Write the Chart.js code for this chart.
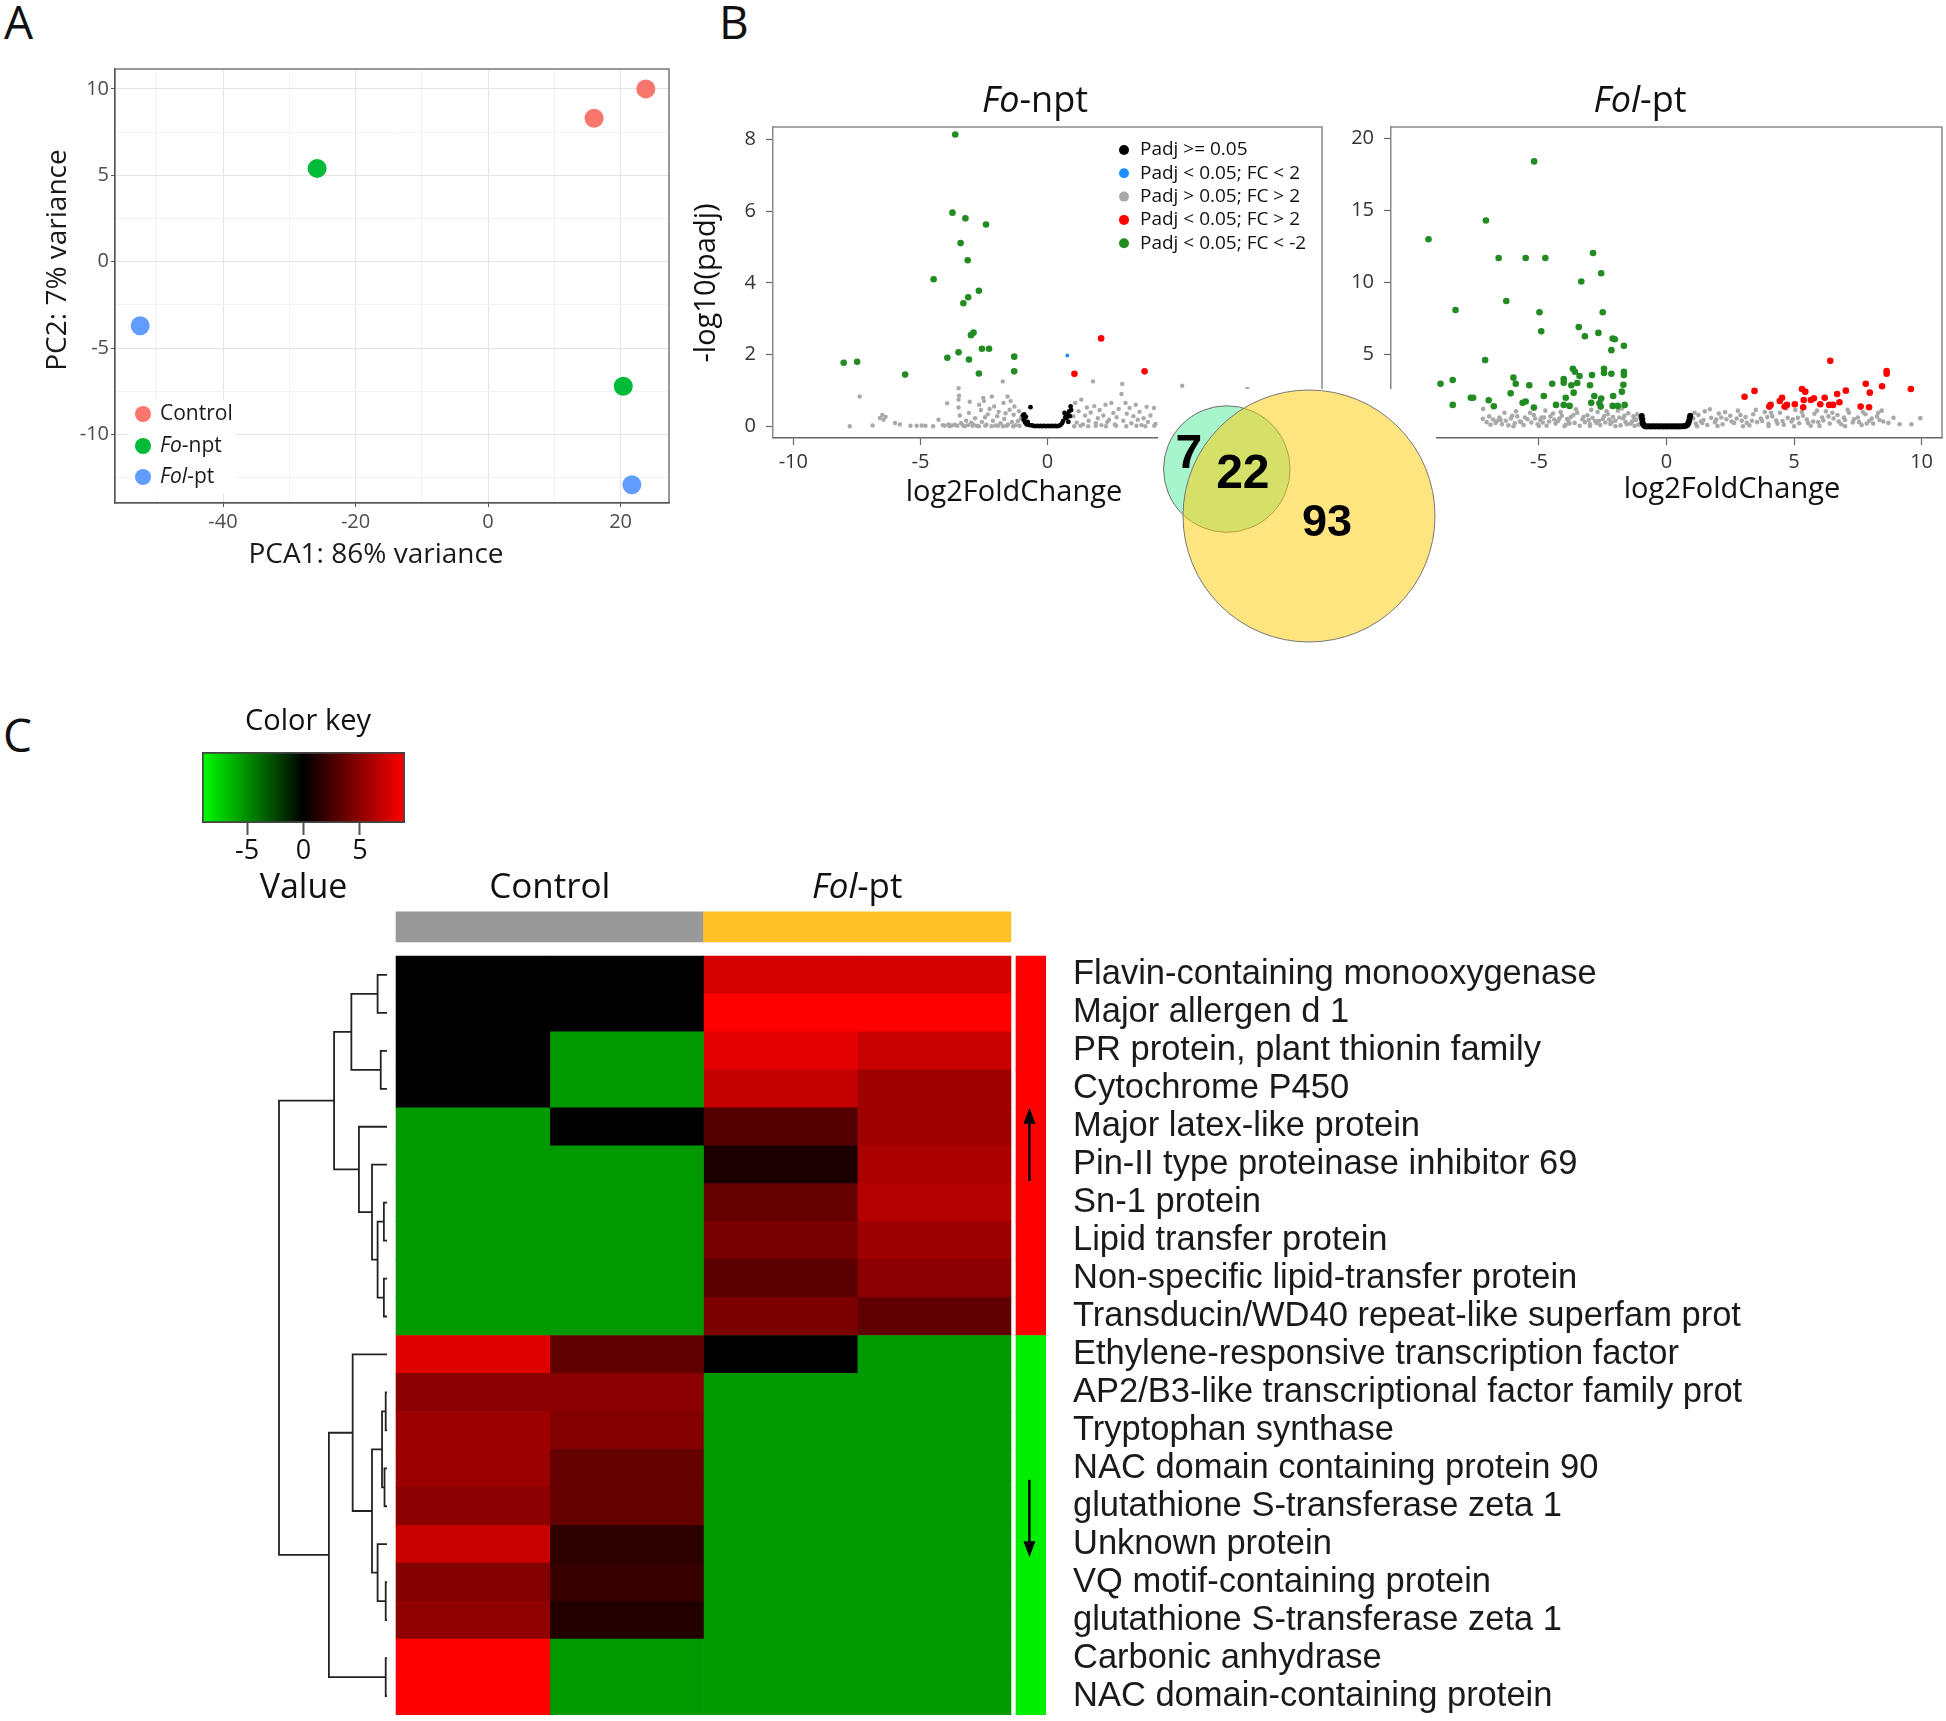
<!DOCTYPE html>
<html>
<head>
<meta charset="utf-8">
<script src="https://cdn.jsdelivr.net/npm/chart.js@4.4.1/dist/chart.umd.min.js"></script>
<style>
  body { margin: 0; width: 1946px; height: 1721px; background: #fff; position: relative; overflow: hidden; }
  canvas { position: absolute; }
  .tag { position: absolute; font: 46px/46px 'Open Sans', sans-serif; color: #111; }
</style>
</head>
<body>
<div class="tag" style="left:4px;top:-2px">A</div>
<div class="tag" style="left:719px;top:-2px">B</div>
<div class="tag" style="left:3px;top:711px">C</div>
<canvas id="pca" width="700" height="590" style="left:0;top:0"></canvas>
<canvas id="volFo" width="640" height="520" style="left:690px;top:0"></canvas>
<canvas id="volFol" width="616" height="520" style="left:1330px;top:0"></canvas>
<canvas id="venn" width="278" height="262" style="left:1158px;top:389px;z-index:2"></canvas>
<canvas id="key" width="280" height="215" style="left:170px;top:700px"></canvas>
<canvas id="heat" width="1706" height="861" style="left:240px;top:860px"></canvas>
<script>
// ---------- A: PCA ----------
const pcaCtrlX = [23.8, 16.0];
const pcaCtrlY = [10.0, 8.3];
const pcaFoX = [-25.8, 20.4];
const pcaFoY = [5.4, -7.2];
const pcaFolX = [-52.5, 21.7];
const pcaFolY = [-3.7, -12.9];
const pcaXTicks = [-50, -40, -30, -20, -10, 0, 10, 20];
const pcaYTicks = [-12.5, -10, -7.5, -5, -2.5, 0, 2.5, 5, 7.5, 10];

// ---------- B: volcano plots (log2FC, -log10 padj) ----------
const volXTicks = [-10, -5, 0, 5, 10];
const foYTicks = [0, 2, 4, 6, 8];
const folYTicks = [0, 5, 10, 15, 20];

const foDown = [[-3.63,8.14],[-3.74,5.96],[-3.23,5.80],[-2.42,5.63],[-3.42,5.11],[-3.14,4.63],[-4.48,4.10],
  [-2.70,3.78],[-3.12,3.60],[-3.31,3.43],[-2.91,2.61],[-3.01,2.54],[-2.58,2.16],[-2.30,2.16],[-3.50,2.06],
  [-3.94,1.91],[-3.09,1.86],[-1.31,1.94],[-1.31,1.53],[-2.70,1.47],[-8.02,1.77],[-7.49,1.80],[-5.60,1.44]];
const foUp = [[2.11,2.45],[1.06,1.46],[3.82,1.53]];
const foSmallFc = [[0.78,1.97]];
const foBlack = [[-0.97,0.30],[-0.94,0.18],[-0.92,0.33],[-0.90,0.22],[-0.88,0.10],[-0.85,0.26],[-0.82,0.05],
  [-0.78,0.12],[-0.72,0.03],[-0.67,0.53],[-0.62,0.02],[-0.55,0.01],[-0.48,0.00],[-0.41,0.01],[-0.34,0.00],
  [-0.27,0.01],[-0.20,0.00],[-0.13,0.01],[-0.06,0.00],[0.02,0.01],[0.09,0.00],[0.16,0.01],[0.23,0.00],
  [0.30,0.01],[0.37,0.00],[0.44,0.01],[0.51,0.03],[0.57,0.08],[0.62,0.15],[0.67,0.37],[0.70,0.25],
  [0.75,0.23],[0.78,0.31],[0.82,0.12],[0.85,0.41],[0.88,0.28],[0.91,0.55],[0.93,0.45]];
const foGrey = [[-7.78,0.00],[-7.39,0.83],[-6.88,0.02],[-6.59,0.23],[-6.50,0.31],[-6.37,0.26],[-6.45,0.18],
  [-6.00,0.09],[-5.81,0.05],[-5.39,0.01],[-5.15,0.01],[-4.95,0.02],[-4.80,0.01],[-4.50,0.00],[-4.29,0.18],
  [-4.12,0.03],[-4.05,0.01],[-3.95,0.64],[-3.90,0.05],[-3.78,0.02],[-3.65,0.04],[-3.50,0.74],[-3.50,0.52],
  [-3.50,1.06],[-3.48,0.85],[-3.45,0.30],[-3.40,0.08],[-3.32,0.02],[-3.20,0.15],[-3.12,0.03],[-3.06,0.68],
  [-3.09,0.37],[-3.00,0.10],[-2.92,0.05],[-2.85,0.22],[-2.78,0.01],[-2.69,0.60],[-2.62,0.45],[-2.58,0.12],
  [-2.53,0.79],[-2.50,0.70],[-2.46,0.25],[-2.40,0.04],[-2.35,0.33],[-2.28,0.48],[-2.19,0.83],[-2.15,0.15],
  [-2.10,0.55],[-2.05,0.02],[-1.98,0.28],[-1.92,0.40],[-1.85,0.08],[-1.76,1.25],[-1.73,0.65],[-1.70,0.20],
  [-1.65,0.36],[-1.57,0.83],[-1.55,0.05],[-1.49,0.46],[-1.45,0.70],[-1.40,0.12],[-1.33,0.32],[-1.30,0.55],
  [-1.25,0.03],[-1.17,0.14],[-1.12,0.42],[-1.05,0.22],[-3.85,0.00],[-3.55,0.01],[-3.25,0.00],[-2.95,0.01],
  [-2.70,0.00],[-2.45,0.01],[-2.20,0.00],[-1.95,0.01],[-1.75,0.00],[-1.60,0.01],[-1.35,0.00],[-1.10,0.01],
  [1.02,0.28],[1.09,0.65],[1.15,0.10],[1.22,0.42],[1.33,0.74],[1.40,0.05],[1.48,0.30],[1.55,0.52],[1.62,0.15],
  [1.70,0.38],[1.79,1.25],[1.84,0.56],[1.90,0.08],[1.98,0.22],[2.05,0.45],[2.12,0.03],[2.20,0.30],[2.28,0.60],
  [2.35,0.12],[2.42,0.18],[2.51,0.65],[2.59,0.37],[2.65,0.05],[2.72,0.25],[2.80,0.48],[2.91,0.90],[2.94,1.18],
  [2.98,0.15],[3.07,0.65],[3.12,0.35],[3.23,0.51],[3.30,0.08],[3.38,0.28],[3.47,0.60],[3.55,0.18],[3.62,0.40],
  [3.70,0.03],[3.78,0.22],[3.90,0.54],[3.95,0.12],[4.05,0.30],[4.19,0.51],[4.25,0.06],[5.30,1.13],[7.86,1.04],
  [1.05,0.00],[1.30,0.01],[1.60,0.00],[1.90,0.01],[2.30,0.00],[2.70,0.01],[3.10,0.00],[3.50,0.01],[3.85,0.00],[4.20,0.01]];

const folDown = [[-5.19,18.41],[-7.08,14.31],[-9.33,13.00],[-2.88,12.05],[-6.58,11.70],[-5.52,11.70],[-4.75,11.70],
  [-2.56,10.64],[-3.34,10.07],[-6.28,8.71],[-8.27,8.09],[-4.98,7.93],[-2.50,7.93],[-4.91,6.61],[-3.44,6.91],
  [-3.20,6.27],[-2.67,6.50],[-2.11,6.11],[-2.03,6.06],[-2.16,5.30],[-1.67,5.60],[-7.11,4.61],[-3.67,4.01],
  [-3.59,3.80],[-2.45,4.01],[-2.45,3.71],[-2.16,3.66],[-1.67,3.80],[-1.67,3.57],[-3.41,3.50],[-2.92,3.57],
  [-6.00,3.39],[-8.86,2.97],[-8.38,3.23],[-5.91,2.97],[-5.38,2.86],[-4.48,2.97],[-4.03,3.29],[-4.03,3.04],
  [-3.73,2.86],[-3.50,3.02],[-3.00,2.86],[-1.69,2.90],[-3.64,2.35],[-1.75,2.42],[-6.11,2.30],[-4.81,2.12],
  [-7.67,2.00],[-7.58,2.00],[-3.95,2.00],[-2.83,2.12],[-2.09,2.12],[-2.56,1.94],[-6.97,1.82],[-5.52,1.73],
  [-5.64,1.64],[-2.95,1.64],[-2.63,1.61],[-8.38,1.50],[-6.77,1.41],[-4.33,1.50],[-4.03,1.50],[-3.80,1.43],
  [-2.58,1.38],[-2.11,1.43],[-1.91,1.43],[-1.64,1.50],[-5.20,1.31]];
const folUp = [[6.42,4.56],[8.63,3.85],[8.63,3.66],[9.58,2.60],[7.81,2.97],[8.45,2.79],[7.97,2.35],[7.03,2.49],
  [6.69,2.26],[3.45,2.47],[3.06,2.07],[5.31,2.60],[5.44,2.42],[5.78,1.96],[5.66,1.84],[5.38,1.84],[6.20,2.00],
  [6.78,1.68],[6.03,1.54],[6.38,1.50],[6.53,1.50],[5.36,1.34],[5.03,1.54],[4.72,1.50],[4.63,1.38],[4.53,2.00],
  [4.44,1.77],[4.08,1.50],[4.03,1.38],[7.61,1.38],[7.94,1.34]];
const folBlack = [[-0.97,0.72],[-0.95,0.48],[-0.94,0.30],[-0.92,0.15],[-0.88,0.06],[-0.83,0.02],[-0.76,0.00],
  [-0.68,0.01],[-0.60,0.00],[-0.52,0.01],[-0.44,0.00],[-0.36,0.01],[-0.28,0.00],[-0.20,0.01],[-0.12,0.00],
  [-0.04,0.01],[0.04,0.00],[0.12,0.01],[0.20,0.00],[0.28,0.01],[0.36,0.00],[0.44,0.01],[0.52,0.00],[0.60,0.01],
  [0.68,0.02],[0.76,0.05],[0.82,0.12],[0.86,0.25],[0.89,0.42],[0.91,0.60],[0.93,0.75]];
const folGrey = [[-7.20,0.53],[-7.19,1.22],[-7.05,0.30],[-6.90,0.12],[-6.80,0.48],[-6.70,0.25],[-6.55,0.62],
  [-6.45,0.15],[-6.30,0.40],[-6.20,0.08],[-6.10,0.55],[-5.95,0.22],[-5.85,0.70],[-5.75,0.35],[-5.60,0.10],
  [-5.45,0.50],[-5.30,0.28],[-5.20,0.80],[-5.05,0.15],[-4.95,0.45],[-4.80,0.62],[-4.70,0.05],[-4.60,0.35],
  [-4.45,0.90],[-4.35,0.20],[-4.20,0.55],[-4.10,0.75],[-3.95,0.12],[-3.85,0.40],[-3.75,0.65],[-3.60,0.25],
  [-3.50,0.95],[-3.40,0.05],[-3.30,0.50],[-3.20,0.30],[-3.10,0.78],[-3.00,0.15],[-2.90,0.60],[-2.80,0.38],
  [-2.70,1.00],[-2.60,0.10],[-2.50,0.52],[-2.40,0.28],[-2.30,0.85],[-2.20,0.18],[-2.10,0.65],[-2.00,0.40],
  [-1.90,1.10],[-1.80,0.08],[-1.70,0.55],[-1.60,0.30],[-1.50,0.92],[-1.40,0.20],[-1.30,0.70],[-1.20,0.45],
  [-1.10,0.12],[-1.05,0.60],[-6.00,0.02],[-5.00,0.03],[-4.00,0.02],[-3.00,0.03],[-2.00,0.02],[-1.25,0.03],
  [-6.65,0.38],[-6.05,0.75],[-5.55,0.62],[-4.85,0.28],[-4.25,0.38],[-3.65,0.80],[-3.05,0.45],[-2.45,0.70],
  [-1.85,0.62],[-1.35,0.35],[-5.15,0.55],[-4.55,0.70],[-3.90,0.52],[-2.65,0.40],[-2.15,0.30],[-1.55,0.15],
  [-6.95,0.70],[-6.35,0.95],[-5.90,1.05],[-5.35,0.95],[-4.75,1.10],[-4.15,1.00],[-3.55,1.20],[-2.95,1.15],
  [-2.35,1.05],[-1.75,1.25],[-1.15,0.85],[-6.50,0.45],[-5.70,0.30],[-4.90,0.62],[-4.40,0.48],[-3.80,0.20],
  [-3.25,0.68],[-2.75,0.25],[-2.25,0.48],[-1.65,0.75],[-1.25,0.55],
  [1.05,0.55],[1.15,0.20],[1.25,0.80],[1.35,0.35],[1.50,1.05],[1.60,0.10],[1.75,0.60],[1.90,0.30],[2.05,0.90],
  [2.20,0.15],[2.35,0.50],[2.50,0.75],[2.65,0.25],[2.80,1.10],[2.95,0.40],[3.10,0.65],[3.25,0.08],[3.40,0.85],
  [3.55,0.30],[3.70,0.55],[3.85,1.00],[4.00,0.18],[4.15,0.70],[4.30,0.42],[4.45,0.95],[4.60,0.12],[4.75,0.60],
  [4.90,0.35],[5.05,1.15],[5.20,0.22],[5.35,0.75],[5.50,0.48],[5.65,0.05],[5.80,0.88],[5.95,0.30],[6.10,0.62],
  [6.25,1.05],[6.40,0.20],[6.55,0.55],[6.70,0.80],[6.85,0.15],[7.00,0.45],[7.15,0.95],[7.30,0.28],[7.50,0.62],
  [7.65,0.10],[7.80,0.85],[7.95,0.40],[8.10,0.20],[8.25,0.70],[8.44,1.10],[8.50,0.35],[9.14,0.16],[9.60,0.16],
  [9.95,0.58],[1.20,0.02],[2.00,0.03],[3.00,0.02],[4.00,0.03],[5.00,0.02],[6.00,0.03],[7.00,0.02],
  [1.45,0.45],[2.15,0.62],[2.75,0.55],[3.35,0.40],[3.95,0.65],[4.55,0.38],[5.15,0.60],[5.75,0.35],[6.35,0.70],
  [6.95,0.62],[7.55,0.30],[8.05,0.55],
  [1.10,0.95],[1.70,1.20],[2.30,1.00],[2.90,0.80],[3.50,1.15],[4.10,0.95],[4.70,1.25],[5.30,1.00],[5.90,1.10],
  [6.50,0.95],[7.10,1.15],[7.70,1.00],[8.30,0.95],[1.40,0.25],[1.95,0.48],[2.55,0.35],[3.15,0.25],[3.75,0.38],
  [4.35,0.20],[4.95,0.50],[5.55,0.25],[6.15,0.42],[6.75,0.35],[7.35,0.50],[7.85,0.20],[8.35,0.45],[8.70,0.25],
  [8.90,0.60]];

const volLegend = ['Padj >= 0.05', 'Padj < 0.05; FC < 2', 'Padj > 0.05; FC > 2', 'Padj < 0.05; FC > 2', 'Padj < 0.05; FC < -2'];
const volColors = ['#000000', '#1E90FF', '#A9A9A9', '#FF0000', '#228B22'];

// Venn: Fo-npt only, shared, Fol-pt only
const vennCounts = [7, 22, 93];

// ---------- C: heatmap ----------
const geneNames = ['Flavin-containing monooxygenase', 'Major allergen d 1', 'PR protein, plant thionin family',
  'Cytochrome P450', 'Major latex-like protein', 'Pin-II type proteinase inhibitor 69', 'Sn-1 protein',
  'Lipid transfer protein', 'Non-specific lipid-transfer protein', 'Transducin/WD40 repeat-like superfam prot',
  'Ethylene-responsive transcription factor', 'AP2/B3-like transcriptional factor family prot', 'Tryptophan synthase',
  'NAC domain containing protein 90', 'glutathione S-transferase zeta 1', 'Unknown protein',
  'VQ motif-containing protein', 'glutathione S-transferase zeta 1', 'Carbonic anhydrase', 'NAC domain-containing protein'];
const ctrl1 = [0, 0, 0, 0, -5.4, -5.4, -5.4, -5.4, -5.4, -5.4, 7.9, 4.9, 5.5, 5.5, 4.9, 7.1, 4.6, 5.1, 9, 9];
const ctrl2 = [0, 0, -5.4, -5.4, 0, -5.4, -5.4, -5.4, -5.4, -5.4, 3.4, 4.9, 4.6, 3.5, 3.5, 1.6, 1.9, 1.2, -5.4, -5.4];
const fol1 = [7.5, 9, 8.1, 6.9, 3.0, 0.9, 3.5, 4.2, 3.2, 4.4, 0, -5.4, -5.4, -5.4, -5.4, -5.4, -5.4, -5.4, -5.4, -5.4];
const fol2 = [7.5, 9, 7.1, 5.6, 5.6, 6.0, 6.4, 5.5, 4.9, 3.4, -5.4, -5.4, -5.4, -5.4, -5.4, -5.4, -5.4, -5.4, -5.4, -5.4];
const geneTrend = ['up','up','up','up','up','up','up','up','up','up',
  'down','down','down','down','down','down','down','down','down','down'];
const groupNames = ['Control', 'Fol-pt'];
const keyTicks = [-5, 0, 5];
const keyRange = [-9, 9];
// row dendrogram (hclust style: negative = leaf row, positive = earlier merge)
const mergeL = [-1, -3, 1, -7, -9, 4, -6, -5, 3, -12, -14, 10, -17, -16, 12, -11, -19, 16, 9];
const mergeR = [-2, -4, 2, -8, -10, 5, 6, 7, 8, -13, -15, 11, -18, 13, 14, 15, -20, 17, 18];
const mergeH = [0.87, 0.58, 3.3, 0.29, 0.29, 0.87, 1.39, 2.6, 4.9, 0.12, 0.23, 0.46, 0.12, 0.87, 1.39, 3.18, 0.12, 5.38, 10];

Chart.defaults.font.family = "'Open Sans', sans-serif";

const pts = a => a.map(([x, y]) => ({ x, y }));
const zip = (xs, ys) => xs.map((x, i) => ({ x, y: ys[i] }));
const isMajor = (c, m) => c.tick && Math.abs(c.tick.value % m) < 1e-9;

function drawParts(ctx, parts, x, y, size, align, family) {
  family = family || "'Open Sans', sans-serif";
  let w = 0;
  parts.forEach(([t, it]) => { ctx.font = (it ? 'italic ' : '') + size + 'px ' + family; w += ctx.measureText(t).width; });
  let cx = align === 'center' ? x - w / 2 : x;
  ctx.textAlign = 'left';
  parts.forEach(([t, it]) => {
    ctx.font = (it ? 'italic ' : '') + size + 'px ' + family;
    ctx.fillText(t, cx, y);
    cx += ctx.measureText(t).width;
  });
}

// ---------- panel A ----------
const pcaDeco = {
  id: 'pcaDeco',
  afterDraw(chart) {
    const { ctx, chartArea: ca } = chart;
    ctx.save();
    ctx.strokeStyle = '#555'; ctx.lineWidth = 1.2;
    ctx.strokeRect(ca.left, ca.top, ca.right - ca.left, ca.bottom - ca.top);
    ctx.fillStyle = '#fff';
    ctx.fillRect(ca.left + 13, ca.bottom - 103, 108, 93);
    const items = [[['Control', false]], [['Fo', true], ['-npt', false]], [['Fol', true], ['-pt', false]]];
    const offs = [89, 57, 26];
    ctx.textBaseline = 'middle';
    items.forEach((parts, i) => {
      ctx.fillStyle = chart.data.datasets[i].backgroundColor;
      ctx.beginPath(); ctx.arc(ca.left + 28, ca.bottom - offs[i], 8, 0, Math.PI * 2); ctx.fill();
      ctx.fillStyle = '#1a1a1a';
      drawParts(ctx, parts, ca.left + 45, ca.bottom - offs[i], 21, 'left');
    });
    ctx.fillStyle = '#1a1a1a';
    drawParts(ctx, [['PCA1: 86% variance', false]], 376, 555, 28, 'center');
    ctx.translate(58, 260); ctx.rotate(-Math.PI / 2);
    drawParts(ctx, [['PC2: 7% variance', false]], 0, 0, 28, 'center');
    ctx.restore();
  }
};

new Chart(document.getElementById('pca'), {
  type: 'scatter',
  data: {
    datasets: [
      { label: 'Control', data: zip(pcaCtrlX, pcaCtrlY), backgroundColor: '#F8766D' },
      { label: 'Fo-npt', data: zip(pcaFoX, pcaFoY), backgroundColor: '#00BA38' },
      { label: 'Fol-pt', data: zip(pcaFolX, pcaFolY), backgroundColor: '#619CFF' }
    ].map(d => Object.assign(d, { pointRadius: 9.5, pointHoverRadius: 9.5, borderWidth: 0 }))
  },
  options: {
    responsive: false, animation: false,
    layout: { padding: { left: 0, top: 69, right: 31, bottom: 0 } },
    plugins: { legend: { display: false }, tooltip: { enabled: false } },
    scales: {
      x: {
        type: 'linear', min: -56.3, max: 27.3,
        afterBuildTicks: s => { s.ticks = pcaXTicks.map(v => ({ value: v })); },
        afterFit: s => { s.height = 87; },
        grid: { color: c => isMajor(c, 20) ? '#E4E4E4' : '#F2F2F2', tickColor: c => isMajor(c, 20) ? '#555' : 'rgba(0,0,0,0)', tickLength: 4 },
        border: { color: '#555', width: 1.2 },
        ticks: { padding: 3, color: '#4D4D4D', font: { size: 20 }, callback: v => (v % 20 === 0 ? v : '') }
      },
      y: {
        type: 'linear', min: -13.96, max: 11.15,
        afterBuildTicks: s => { s.ticks = pcaYTicks.map(v => ({ value: v })); },
        afterFit: s => { s.width = 115; },
        grid: { color: c => isMajor(c, 5) ? '#E4E4E4' : '#F2F2F2', tickColor: c => isMajor(c, 5) ? '#555' : 'rgba(0,0,0,0)', tickLength: 4 },
        border: { color: '#555', width: 1.2 },
        ticks: { padding: 2, color: '#4D4D4D', font: { size: 20 }, callback: v => (v % 5 === 0 ? v : '') }
      }
    }
  },
  plugins: [pcaDeco]
});

// ---------- panel B: volcanoes ----------
function volDeco(o) {
  return {
    id: 'volDeco',
    afterDraw(chart) {
      const { ctx, chartArea: ca } = chart;
      ctx.save();
      ctx.strokeStyle = '#8a8a8a'; ctx.lineWidth = 1.5;
      ctx.beginPath();
      ctx.moveTo(ca.left, ca.top); ctx.lineTo(ca.right, ca.top); ctx.lineTo(ca.right, ca.bottom);
      ctx.stroke();
      ctx.fillStyle = '#111';
      ctx.textBaseline = 'alphabetic';
      drawParts(ctx, o.title, o.titleX, 112, 36, 'center');
      ctx.textBaseline = 'middle';
      drawParts(ctx, [['log2FoldChange', false]], o.xTitleX, o.xTitleY, 29, 'center');
      if (o.yTitle) {
        ctx.save(); ctx.translate(17, 283); ctx.rotate(-Math.PI / 2);
        drawParts(ctx, [[o.yTitle, false]], 0, 0, 29, 'center');
        ctx.restore();
      }
      if (o.legend) {
        ctx.fillStyle = '#fff';
        ctx.fillRect(420, 138, 208, 120);
        volLegend.forEach((t, i) => {
          const y = 150 + i * 23.3;
          ctx.fillStyle = volColors[i];
          ctx.beginPath(); ctx.arc(434, y, 5, 0, Math.PI * 2); ctx.fill();
          ctx.fillStyle = '#111';
          drawParts(ctx, [[t, false]], 450, y, 19, 'left');
        });
      }
      ctx.restore();
    }
  };
}

function volcano(id, sets, o) {
  return new Chart(document.getElementById(id), {
    type: 'scatter',
    data: {
      datasets: sets.map(s => ({ data: pts(s.data), backgroundColor: s.color, pointRadius: s.r, pointHoverRadius: s.r, borderWidth: 0 }))
    },
    options: {
      responsive: false, animation: false,
      layout: { padding: { left: 0, top: 127, right: o.padRight, bottom: 0 } },
      plugins: { legend: { display: false }, tooltip: { enabled: false } },
      scales: {
        x: {
          type: 'linear', min: -10.8, max: 10.8,
          afterBuildTicks: s => { s.ticks = volXTicks.map(v => ({ value: v })); },
          afterFit: s => { s.height = 82; },
          grid: { drawOnChartArea: false, tickLength: 7, tickColor: '#666', tickWidth: 1.2 },
          border: { color: '#666', width: 1.4 },
          ticks: { padding: 5, color: '#333', font: { size: 20 } }
        },
        y: {
          type: 'linear', min: o.yMin, max: o.yMax,
          afterBuildTicks: s => { s.ticks = o.yTicks.map(v => ({ value: v })); },
          afterFit: s => { s.width = o.yWidth; },
          grid: { drawOnChartArea: false, tickLength: 7, tickColor: '#666', tickWidth: 1.2 },
          border: { color: '#8a8a8a', width: 1.5 },
          ticks: { padding: 10, color: '#333', font: { size: 20 } }
        }
      }
    },
    plugins: [volDeco(o)]
  });
}

volcano('volFo', [
  { data: foDown, color: '#228B22', r: 3.3 },
  { data: foUp, color: '#FF0000', r: 3.3 },
  { data: foSmallFc, color: '#1E90FF', r: 2 },
  { data: foBlack, color: '#000000', r: 2.4 },
  { data: foGrey, color: '#A9A9A9', r: 2.2 }
], { padRight: 8, yWidth: 83, yMin: -0.33, yMax: 8.35, yTicks: foYTicks,
  title: [['Fo', true], ['-npt', false]], titleX: 345, xTitleX: 324, xTitleY: 493, yTitle: '-log10(padj)', legend: true });

volcano('volFol', [
  { data: folDown, color: '#228B22', r: 3.3 },
  { data: folUp, color: '#FF0000', r: 3.3 },
  { data: folBlack, color: '#000000', r: 3 },
  { data: folGrey, color: '#A9A9A9', r: 2.3 }
], { padRight: 4, yWidth: 61, yMin: -0.8, yMax: 20.8, yTicks: folYTicks,
  title: [['Fol', true], ['-pt', false]], titleX: 310, xTitleX: 402, xTitleY: 490, legend: false });

// ---------- Venn (area-proportional) ----------
function lensArea(d, r, R) {
  if (d >= r + R) return 0;
  if (d <= Math.abs(R - r)) return Math.PI * Math.min(r, R) ** 2;
  const a = r * r * Math.acos((d * d + r * r - R * R) / (2 * d * r));
  const b = R * R * Math.acos((d * d + R * R - r * r) / (2 * d * R));
  const c = 0.5 * Math.sqrt((-d + r + R) * (d + r - R) * (d - r + R) * (d + r + R));
  return a + b - c;
}
const nFo = vennCounts[0] + vennCounts[1];
const nFol = vennCounts[1] + vennCounts[2];
const vk = 11.75;
const rFo = vk * Math.sqrt(nFo), rFol = vk * Math.sqrt(nFol);
let lo = Math.abs(rFol - rFo), hi = rFo + rFol;
for (let i = 0; i < 60; i++) {
  const m = (lo + hi) / 2;
  if (lensArea(m, rFo, rFol) / (Math.PI * rFo * rFo) > vennCounts[1] / nFo) lo = m; else hi = m;
}
const vd = (lo + hi) / 2;
const folC = { x: 151, y: 127 };
const foC = { x: folC.x - 0.868 * vd, y: folC.y - 0.496 * vd };

const vennDeco = {
  id: 'vennDeco',
  beforeDraw(chart) {
    chart.ctx.save(); chart.ctx.fillStyle = '#fff'; chart.ctx.fillRect(0, 0, chart.width, chart.height); chart.ctx.restore();
  },
  afterDatasetsDraw(chart) {
    const { ctx } = chart;
    const a = chart.getDatasetMeta(0).data[0], b = chart.getDatasetMeta(1).data[0];
    ctx.save();
    ctx.fillStyle = '#000'; ctx.textAlign = 'center'; ctx.textBaseline = 'middle';
    ctx.font = "bold 48px 'Liberation Sans', Arial, sans-serif";
    ctx.fillText(String(vennCounts[0]), a.x - 38, a.y - 14);
    ctx.fillText(String(vennCounts[1]), a.x + 16, a.y + 6);
    ctx.font = "bold 45px 'Liberation Sans', Arial, sans-serif";
    ctx.fillText(String(vennCounts[2]), b.x + 18, b.y + 8);
    ctx.restore();
  }
};

new Chart(document.getElementById('venn'), {
  type: 'bubble',
  data: {
    datasets: [
      { data: [{ x: foC.x, y: foC.y, r: rFo }], backgroundColor: '#A6F5CD', borderColor: '#6f6f6f', borderWidth: 1, order: 2, clip: false },
      { data: [{ x: folC.x, y: folC.y, r: rFol }], backgroundColor: 'rgba(255,205,10,0.52)', borderColor: '#777', borderWidth: 1, order: 1, clip: false }
    ]
  },
  options: {
    responsive: false, animation: false,
    layout: { padding: 0, autoPadding: false },
    plugins: { legend: { display: false }, tooltip: { enabled: false } },
    scales: {
      x: { type: 'linear', min: 0, max: 278, display: false },
      y: { type: 'linear', min: 0, max: 262, reverse: true, display: false }
    }
  },
  plugins: [vennDeco]
});

// ---------- panel C: colour key ----------
function keyColor(v) {
  const c = Math.round(255 * Math.min(1, Math.abs(v) / keyRange[1]));
  return v >= 0 ? `rgb(${c},0,0)` : `rgb(0,${c},0)`;
}

new Chart(document.getElementById('key'), {
  type: 'bar',
  data: {
    labels: [''],
    datasets: [{
      data: [keyRange],
      backgroundColor: c => {
        const ca = c.chart.chartArea;
        if (!ca || !isFinite(ca.left) || !isFinite(ca.right)) return '#000';
        const g = c.chart.ctx.createLinearGradient(ca.left, 0, ca.right, 0);
        g.addColorStop(0, keyColor(keyRange[0])); g.addColorStop(0.5, keyColor(0)); g.addColorStop(1, keyColor(keyRange[1]));
        return g;
      },
      borderColor: '#444', borderWidth: 2, borderSkipped: false,
      barPercentage: 1, categoryPercentage: 1
    }]
  },
  options: {
    indexAxis: 'y',
    responsive: false, animation: false,
    layout: { padding: { left: 32, right: 45, top: 52, bottom: 0 } },
    plugins: { legend: { display: false }, tooltip: { enabled: false } },
    scales: {
      x: {
        type: 'linear', min: keyRange[0], max: keyRange[1],
        afterBuildTicks: s => { s.ticks = keyTicks.map(v => ({ value: v })); },
        afterFit: s => { s.height = 92; },
        grid: { drawOnChartArea: false, tickLength: 12, tickColor: '#555', tickWidth: 2 },
        border: { display: false },
        ticks: { padding: 0, color: '#111', font: { size: 27 } },
        title: { display: true, text: 'Value', color: '#111', font: { size: 34 }, padding: { top: 0, bottom: 6 } }
      },
      y: { type: 'category', display: false }
    }
  },
  plugins: [{
    id: 'keyTitle',
    afterDraw(chart) {
      const ctx = chart.ctx;
      ctx.save(); ctx.fillStyle = '#111'; ctx.textBaseline = 'middle';
      drawParts(ctx, [['Color key', false]], 138, 22, 29, 'center');
      ctx.restore();
    }
  }]
});

// ---------- panel C: heatmap ----------
const heatCols = [ctrl1, ctrl2, fol1, fol2];
const cellSets = heatCols.map((vals, c) => ({
  type: 'bar', indexAxis: 'y', grouped: false, barThickness: 38, borderWidth: 0,
  data: vals.map((v, i) => ({ x: [c, c + 1], y: i + 0.5 })),
  backgroundColor: vals.map(keyColor)
}));
const sideSet = {
  type: 'bar', indexAxis: 'y', grouped: false, barThickness: 38, borderWidth: 0,
  data: geneTrend.map((t, i) => ({ x: [4.033, 4.228], y: i + 0.5 })),
  backgroundColor: geneTrend.map(t => (t === 'up' ? '#FF0000' : '#00EE00'))
};
const headerSet = {
  type: 'bar', indexAxis: 'y', grouped: false, barThickness: 30, borderWidth: 0,
  data: groupNames.map((g, i) => ({ x: [i * 2, i * 2 + 2], y: -0.765 })),
  backgroundColor: ['#999999', '#FFC125']
};

// dendrogram segments from the merge table
const nodeY = [];
const dendroSets = [];
const nodePos = ref => (ref < 0 ? [0, -ref - 0.5] : [mergeH[ref - 1], nodeY[ref - 1]]);
mergeL.forEach((a, k) => {
  const [h1, y1] = nodePos(a);
  const [h2, y2] = nodePos(mergeR[k]);
  nodeY.push((y1 + y2) / 2);
  dendroSets.push({
    type: 'line', xAxisID: 'x2', yAxisID: 'y',
    data: [{ x: h1, y: y1 }, { x: mergeH[k], y: y1 }, { x: mergeH[k], y: y2 }, { x: h2, y: y2 }],
    borderColor: '#222', borderWidth: 1.8, pointRadius: 0, fill: false, tension: 0
  });
});

const heatDeco = {
  id: 'heatDeco',
  afterDraw(chart) {
    const { ctx } = chart;
    const x = chart.scales.x, y = chart.scales.y;
    ctx.save();
    ctx.fillStyle = '#111'; ctx.textBaseline = 'middle';
    drawParts(ctx, [['Control', false]], x.getPixelForValue(1), y.getPixelForValue(-1.79), 35, 'center');
    drawParts(ctx, [['Fol', true], ['-pt', false]], x.getPixelForValue(3), y.getPixelForValue(-1.79), 35, 'center');
    // trend arrows on the side bar
    const ax = x.getPixelForValue(4.12);
    const arrow = (y0, y1) => {
      const p0 = y.getPixelForValue(y0), p1 = y.getPixelForValue(y1);
      const dir = Math.sign(p1 - p0);
      ctx.strokeStyle = '#000'; ctx.lineWidth = 2.5;
      ctx.beginPath(); ctx.moveTo(ax, p0); ctx.lineTo(ax, p1 - dir * 12); ctx.stroke();
      ctx.fillStyle = '#000';
      ctx.beginPath(); ctx.moveTo(ax, p1); ctx.lineTo(ax - 6, p1 - dir * 16); ctx.lineTo(ax + 6, p1 - dir * 16); ctx.closePath(); ctx.fill();
    };
    arrow(5.93, 4.0);
    arrow(13.8, 15.84);
    ctx.restore();
  }
};

new Chart(document.getElementById('heat'), {
  type: 'bar',
  data: { datasets: [...cellSets, sideSet, headerSet, ...dendroSets] },
  options: {
    responsive: false, animation: false,
    layout: { padding: { left: 20, right: 0, top: 8.7, bottom: 6 }, autoPadding: false },
    plugins: { legend: { display: false }, tooltip: { enabled: false } },
    scales: {
      x: { type: 'linear', axis: 'x', min: -0.885, max: 4.228, display: false, offset: false },
      x2: { type: 'linear', axis: 'x', min: -61.02, max: 11.76, reverse: true, display: false, offset: false },
      y: {
        type: 'linear', axis: 'y', position: 'right', min: -2.3, max: 20, reverse: true, offset: false,
        afterBuildTicks: s => { s.ticks = geneNames.map((_, i) => ({ value: i + 0.5 })); },
        afterFit: s => { s.width = 900; s.paddingTop = 0; s.paddingBottom = 0; },
        grid: { display: false, drawTicks: false },
        border: { display: false },
        ticks: {
          autoSkip: false, padding: 27, color: '#1a1a1a',
          font: { size: 34.5, family: "'Liberation Sans', Arial, sans-serif", lineHeight: 1 },
          callback: (v, i) => geneNames[i]
        }
      }
    }
  },
  plugins: [heatDeco]
});
</script>
</body>
</html>
